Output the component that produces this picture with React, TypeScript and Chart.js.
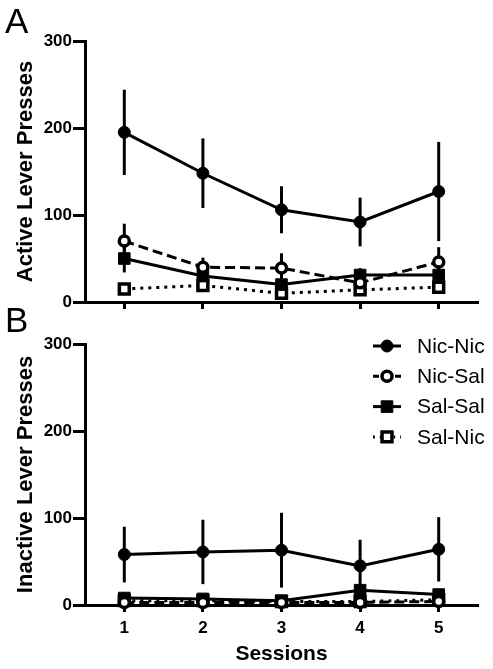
import React, { useEffect, useRef } from "react";
import { Chart, registerables } from "chart.js";

Chart.register(...registerables);

const FONT = "'Liberation Sans', Arial, Helvetica, sans-serif";

const sessions = [1, 2, 3, 4, 5];
const groups = ["Nic-Nic", "Nic-Sal", "Sal-Sal", "Sal-Nic"];
const yTicks = [0, 100, 200, 300];

// Panel A: active lever presses (mean and SEM)
const activeNicNic = [195, 148, 106, 92, 127];
const activeNicNicErr = [49, 40, 27, 28, 57];
const activeNicSal = [70, 40, 39, 22, 46];
const activeNicSalErr = [20, 11, 17, 10, 17];
const activeSalSal = [50, 30, 20, 31, 31];
const activeSalSalErr = [16, 8, 6, 8, 6];
const activeSalNic = [15, 19, 10, 14, 17];
const activeSalNicErr = [4, 5, 3, 4, 4];

// Panel B: inactive lever presses (mean and SEM)
const inactiveNicNic = [58, 61, 63, 45, 64];
const inactiveNicNicErr = [32, 37, 43, 30, 37];
const inactiveNicSal = [3, 3, 3, 3, 4];
const inactiveNicSalErr = [1, 1, 1, 1, 1];
const inactiveSalSal = [8, 7, 5, 17, 12];
const inactiveSalSalErr = [2, 2, 2, 4, 3];
const inactiveSalNic = [5, 5, 4, 4, 6];
const inactiveSalNicErr = [1, 1, 1, 1, 1];

type Sty = { dash: number[]; pointStyle: string; radius: number; fill: string; bw: number };
const styles: Sty[] = [
  { dash: [], pointStyle: "circle", radius: 6, fill: "#000", bw: 1 },
  { dash: [10, 5], pointStyle: "circle", radius: 5, fill: "#fff", bw: 3.5 },
  { dash: [], pointStyle: "rect", radius: 8.2, fill: "#000", bw: 1 },
  { dash: [3, 5], pointStyle: "rect", radius: 7, fill: "#fff", bw: 3.5 },
];

function drawMarker(ctx: CanvasRenderingContext2D, s: Sty, x: number, y: number) {
  ctx.save();
  ctx.setLineDash([]);
  ctx.fillStyle = s.fill;
  ctx.strokeStyle = "#000";
  ctx.lineWidth = s.bw;
  ctx.beginPath();
  if (s.pointStyle === "circle") {
    ctx.arc(x, y, s.radius, 0, Math.PI * 2);
  } else {
    const h = Math.SQRT1_2 * s.radius;
    ctx.rect(x - h, y - h, 2 * h, 2 * h);
  }
  ctx.fill();
  ctx.stroke();
  ctx.restore();
}

type PanelCfg = {
  means: number[][];
  errs: number[][];
  letter: string;
  letterY: number;
  yTitle: string;
  showX: boolean;
  padTop: number;
  xHeight: number;
  legend: boolean;
};

function makeChart(canvas: HTMLCanvasElement, cfg: PanelCfg) {
  const errorBars = {
    id: "errorBars",
    beforeDatasetsDraw(chart: any) {
      const { ctx } = chart;
      const x = chart.scales.x;
      const y = chart.scales.y;
      ctx.save();
      ctx.strokeStyle = "#000";
      ctx.lineWidth = 3;
      ctx.setLineDash([]);
      chart.data.datasets.forEach((ds: any, d: number) => {
        ds.data.forEach((p: any, i: number) => {
          const e = cfg.errs[d][i];
          const px = x.getPixelForValue(p.x);
          ctx.beginPath();
          ctx.moveTo(px, y.getPixelForValue(p.y + e));
          ctx.lineTo(px, y.getPixelForValue(Math.max(0, p.y - e)));
          ctx.stroke();
        });
      });
      ctx.restore();
    },
  };
  const letterPlugin = {
    id: "panelLetter",
    afterDraw(chart: any) {
      const ctx = chart.ctx;
      ctx.save();
      ctx.fillStyle = "#000";
      ctx.font = `35px ${FONT}`;
      ctx.textAlign = "left";
      ctx.textBaseline = "alphabetic";
      ctx.fillText(cfg.letter, 5, cfg.letterY);
      ctx.restore();
    },
  };
  const legendPlugin = {
    id: "customLegend",
    afterDraw(chart: any) {
      if (!cfg.legend) return;
      const ctx = chart.ctx;
      groups.forEach((g, i) => {
        const s = styles[i];
        const yy = 46 + i * 30.3;
        ctx.save();
        ctx.strokeStyle = "#000";
        ctx.lineWidth = 3;
        ctx.setLineDash(s.dash.length ? [s.dash[0] * 0.6, s.dash[1]] : []);
        ctx.beginPath();
        ctx.moveTo(373, yy);
        ctx.lineTo(401, yy);
        ctx.stroke();
        ctx.restore();
        drawMarker(ctx, s, 387, yy);
        ctx.save();
        ctx.fillStyle = "#000";
        ctx.font = `21px ${FONT}`;
        ctx.textAlign = "left";
        ctx.textBaseline = "middle";
        ctx.fillText(g, 417, yy + 1);
        ctx.restore();
      });
    },
  };

  const datasets = groups.map((g, d) => ({
    label: g,
    data: sessions.map((s, i) => ({ x: s, y: cfg.means[d][i] })),
    borderColor: "#000",
    borderWidth: 3,
    borderDash: styles[d].dash,
    pointStyle: styles[d].pointStyle,
    pointRadius: styles[d].radius,
    pointBackgroundColor: styles[d].fill,
    pointBorderColor: "#000",
    pointBorderWidth: styles[d].bw,
    tension: 0,
    fill: false,
    clip: false as any,
  }));

  return new Chart(canvas, {
    type: "line",
    data: { datasets },
    plugins: [errorBars, letterPlugin, legendPlugin],
    options: {
      responsive: false,
      animation: false,
      events: [],
      layout: { padding: { top: cfg.padTop, right: 15, left: 0, bottom: 0 } },
      plugins: { legend: { display: false }, tooltip: { enabled: false } },
      scales: {
        x: {
          type: "linear",
          min: 0.5,
          max: 5.5,
          afterBuildTicks: (s: any) => {
            s.ticks = sessions.map((v) => ({ value: v }));
          },
          ticks: {
            display: cfg.showX,
            color: "#000",
            font: { family: FONT, size: 17, weight: "bold" },
            padding: 6,
            maxRotation: 0,
            autoSkip: false,
          },
          grid: {
            drawOnChartArea: false,
            drawTicks: true,
            tickLength: 7,
            tickWidth: 3,
            tickColor: "#000",
          },
          border: { display: true, color: "#000", width: 3 },
          title: {
            display: cfg.showX,
            text: "Sessions",
            color: "#000",
            font: { family: FONT, size: 21, weight: "bold" },
            padding: { top: 0, bottom: 2 },
          },
          afterFit: (s: any) => {
            s.height = cfg.xHeight;
          },
        } as any,
        y: {
          min: 0,
          max: 300,
          afterBuildTicks: (s: any) => {
            s.ticks = yTicks.map((v) => ({ value: v }));
          },
          ticks: {
            color: "#000",
            font: { family: FONT, size: 17, weight: "bold" },
            padding: 1,
          },
          grid: {
            drawOnChartArea: false,
            drawTicks: true,
            tickLength: 12,
            tickWidth: 3,
            tickColor: "#000",
          },
          border: { display: true, color: "#000", width: 3 },
          title: {
            display: true,
            text: cfg.yTitle,
            color: "#000",
            font: { family: FONT, size: 22, weight: "bold" },
            padding: { top: 13, bottom: 0 },
          },
          afterFit: (s: any) => {
            s.width = 85;
          },
        } as any,
      },
    } as any,
  });
}

export default function App() {
  const refA = useRef<HTMLCanvasElement>(null);
  const refB = useRef<HTMLCanvasElement>(null);

  useEffect(() => {
    const a = makeChart(refA.current!, {
      means: [activeNicNic, activeNicSal, activeSalSal, activeSalNic],
      errs: [activeNicNicErr, activeNicSalErr, activeSalSalErr, activeSalNicErr],
      letter: "A",
      letterY: 33,
      yTitle: "Active Lever Presses",
      showX: false,
      padTop: 41,
      xHeight: 13,
      legend: false,
    });
    const b = makeChart(refB.current!, {
      means: [inactiveNicNic, inactiveNicSal, inactiveSalSal, inactiveSalNic],
      errs: [inactiveNicNicErr, inactiveNicSalErr, inactiveSalSalErr, inactiveSalNicErr],
      letter: "B",
      letterY: 32,
      yTitle: "Inactive Lever Presses",
      showX: true,
      padTop: 44,
      xHeight: 64,
      legend: true,
    });
    return () => {
      a.destroy();
      b.destroy();
    };
  }, []);

  return (
    <div style={{ position: "absolute", left: 0, top: 0, width: 493, height: 669, background: "#fff" }}>
      <canvas
        ref={refA}
        width={493}
        height={315}
        style={{ position: "absolute", left: 0, top: 0, width: 493, height: 315 }}
      />
      <canvas
        ref={refB}
        width={493}
        height={369}
        style={{ position: "absolute", left: 0, top: 300, width: 493, height: 369 }}
      />
    </div>
  );
}
